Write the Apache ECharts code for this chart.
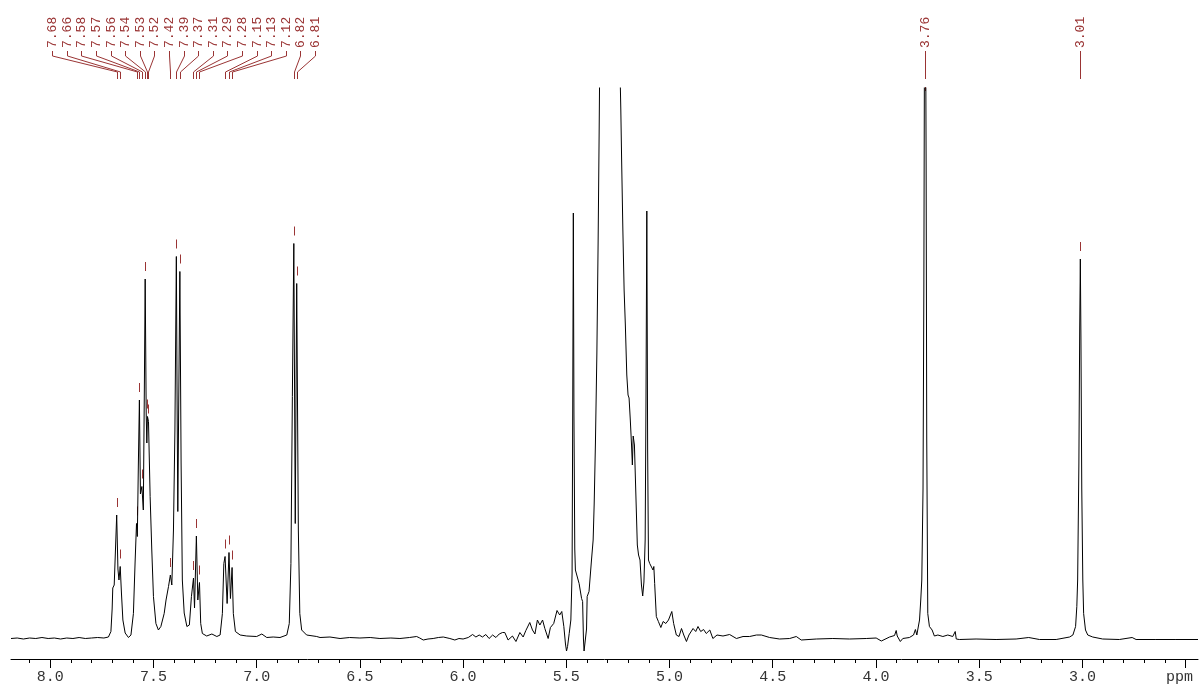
<!DOCTYPE html>
<html>
<head>
<meta charset="utf-8">
<script src="https://cdn.jsdelivr.net/npm/echarts@6/dist/echarts.min.js"></script>
<style>
  html, body { margin: 0; padding: 0; background: #ffffff; }
  #chart { width: 1202px; height: 693px; }
</style>
</head>
<body>
<div id="chart"></div>
<script>
// 1H NMR trace: [chemical shift (ppm), intensity (relative units)]
const spectrum = [
  [8.19,0.1],[8.16,0.2],[8.13,0.0],[8.10,0.2],[8.07,0.1],[8.04,0.3],[8.01,0.1],[7.98,0.2],[7.95,0.0],
  [7.92,0.2],[7.89,0.1],[7.86,0.3],[7.83,0.1],[7.80,0.2],[7.77,0.3],[7.74,0.2],[7.718,0.4],[7.706,1.5],
  [7.700,6.0],[7.697,10.2],[7.690,10.8],[7.684,17.8],[7.678,24.8],[7.672,14.0],[7.667,11.8],[7.661,14.5],
  [7.655,9.2],[7.648,3.8],[7.637,1.2],[7.621,0.3],[7.609,0.8],[7.597,5.1],[7.589,15.2],[7.582,23.1],
  [7.578,20.5],[7.573,35.0],[7.568,47.8],[7.563,29.0],[7.556,30.5],[7.549,25.8],[7.544,50.0],[7.540,72.0],
  [7.535,45.0],[7.532,39.2],[7.529,44.5],[7.524,43.5],[7.516,28.5],[7.508,17.8],[7.500,8.5],[7.488,3.1],
  [7.476,1.8],[7.464,2.5],[7.448,5.1],[7.439,7.8],[7.427,10.5],[7.418,12.8],[7.411,10.8],[7.403,21.8],
  [7.396,41.8],[7.389,76.5],[7.385,45.0],[7.382,25.5],[7.378,45.0],[7.372,73.5],[7.366,35.2],[7.360,11.8],
  [7.351,5.2],[7.338,2.5],[7.326,2.8],[7.316,8.5],[7.306,12.2],[7.301,6.2],[7.292,20.6],[7.285,7.8],
  [7.277,11.3],[7.271,3.1],[7.263,1.1],[7.242,0.6],[7.217,1.0],[7.193,0.5],[7.177,0.8],[7.166,5.1],
  [7.159,15.1],[7.153,16.5],[7.143,7.1],[7.134,17.3],[7.127,8.1],[7.119,14.3],[7.113,5.1],[7.103,1.5],
  [7.080,0.8],[7.048,0.6],[7.000,0.5],[6.975,1.0],[6.951,0.3],[6.920,0.4],[6.887,0.3],[6.854,0.8],
  [6.842,3.1],[6.834,15.1],[6.827,48.5],[6.820,79.1],[6.813,23.1],[6.806,71.1],[6.798,21.8],[6.791,5.1],
  [6.782,1.8],[6.758,0.8],[6.709,0.5],[6.693,0.3],[6.645,0.4],[6.596,0.1],[6.550,0.3],[6.500,0.2],
  [6.450,0.3],[6.403,0.1],[6.350,0.2],[6.306,0.1],[6.260,0.3],[6.225,0.5],[6.210,0.2],[6.193,-0.2],
  [6.170,0.0],[6.145,0.1],[6.120,0.3],[6.096,0.4],[6.064,0.1],[6.040,-0.2],[6.020,0.1],[6.000,0.0],
  [5.975,0.3],[5.954,0.9],[5.938,0.4],[5.922,0.8],[5.906,0.4],[5.890,0.9],[5.874,0.1],[5.857,0.8],
  [5.841,0.3],[5.825,1.0],[5.809,1.3],[5.798,1.3],[5.782,-0.2],[5.761,0.6],[5.744,-0.5],[5.725,1.3],
  [5.709,0.4],[5.696,1.7],[5.677,3.3],[5.664,1.8],[5.652,1.0],[5.640,3.8],[5.628,2.8],[5.615,3.8],
  [5.604,2.1],[5.588,0.1],[5.577,2.3],[5.561,3.1],[5.545,5.7],[5.532,4.8],[5.522,5.5],[5.512,2.5],
  [5.504,-1.0],[5.499,-2.4],[5.494,-1.5],[5.486,1.1],[5.478,3.8],[5.472,13.2],[5.469,45.0],[5.466,85.2],
  [5.463,45.0],[5.459,18.0],[5.456,13.8],[5.448,13.5],[5.438,11.1],[5.426,8.1],[5.421,7.5],[5.417,0.0],
  [5.414,-2.4],[5.406,-2.4],[5.402,2.0],[5.399,8.5],[5.390,9.5],[5.378,15.8],[5.370,19.8],[5.365,27.0],
  [5.359,39.0],[5.352,57.0],[5.346,79.0],[5.341,101.0],[5.336,125.0],[5.330,180.0],[5.320,240.0],
  [5.310,250.0],[5.300,235.0],[5.290,215.0],[5.275,185.0],[5.260,155.0],[5.248,128.0],[5.240,114.0],
  [5.236,106.0],[5.232,95.8],[5.226,81.8],[5.220,69.8],[5.214,62.8],[5.207,52.8],[5.201,48.8],[5.196,48.2],
  [5.190,43.8],[5.184,38.8],[5.180,34.8],[5.176,40.6],[5.170,38.8],[5.163,28.8],[5.156,18.8],[5.150,16.8],
  [5.143,15.8],[5.136,10.8],[5.130,8.6],[5.124,11.4],[5.118,19.8],[5.114,47.8],[5.110,85.6],[5.106,37.8],
  [5.102,15.8],[5.096,15.1],[5.088,14.8],[5.080,13.8],[5.076,14.5],[5.072,11.1],[5.064,4.5],[5.054,3.5],
  [5.042,2.3],[5.031,3.5],[5.018,3.1],[5.005,3.8],[4.989,5.5],[4.980,3.1],[4.967,0.8],[4.954,0.5],
  [4.942,2.1],[4.931,0.8],[4.918,-0.5],[4.906,0.8],[4.898,1.0],[4.886,2.1],[4.873,1.5],[4.862,2.5],
  [4.849,1.5],[4.835,1.9],[4.822,1.1],[4.805,1.8],[4.790,0.1],[4.770,0.8],[4.741,0.6],[4.709,0.9],
  [4.676,0.1],[4.644,0.5],[4.612,0.5],[4.579,0.8],[4.555,0.8],[4.515,0.3],[4.467,0.0],[4.418,0.1],
  [4.386,0.5],[4.362,-0.2],[4.289,0.0],[4.209,0.1],[4.128,0.0],[4.047,0.1],[3.999,0.2],[3.974,-0.4],
  [3.934,0.4],[3.910,0.7],[3.902,1.7],[3.897,0.6],[3.882,-0.5],[3.870,0.1],[3.838,0.3],[3.818,0.8],
  [3.809,1.9],[3.802,0.8],[3.796,2.2],[3.789,3.8],[3.783,7.8],[3.778,11.8],[3.772,30.0],[3.768,70.0],
  [3.765,120.0],[3.763,135.0],[3.760,130.0],[3.757,95.0],[3.754,40.0],[3.749,5.1],[3.741,2.5],[3.728,1.8],
  [3.717,0.6],[3.700,0.8],[3.676,0.5],[3.652,0.8],[3.628,0.5],[3.616,1.5],[3.611,0.0],[3.596,-0.1],
  [3.515,0.0],[3.418,-0.1],[3.321,0.0],[3.260,0.3],[3.208,-0.1],[3.127,-0.1],[3.062,0.4],[3.046,0.8],
  [3.033,2.5],[3.027,6.5],[3.023,11.8],[3.017,35.0],[3.013,62.0],[3.010,76.0],[3.007,60.0],[3.003,30.0],
  [2.998,11.8],[2.994,5.1],[2.985,1.8],[2.974,0.8],[2.950,0.4],[2.902,0.0],[2.821,-0.1],[2.759,0.3],
  [2.740,-0.1],[2.644,-0.1],[2.547,-0.1],[2.44,-0.1]
];

// Picked peaks (ppm); labels print them to two decimals
const peakShifts = [
  7.678, 7.661, 7.582, 7.568, 7.556, 7.540, 7.529, 7.524,
  7.418, 7.389, 7.372, 7.306, 7.292, 7.277, 7.153, 7.134, 7.119,
  6.820, 6.806, 3.763, 3.010
];

// Axis scale
const shiftRange = [2.44, 8.19];
const intensityRange = [-4, 110.2];
const axisLabelValues = [8.0, 7.5, 7.0, 6.5, 6.0, 5.5, 5.0, 4.5, 4.0, 3.5, 3.0, 2.5];
const unitLabel = 'ppm';
const minorTickValues = [];
for (let k = 81; k >= 25; k--) minorTickValues.push(k / 10);

// Peak heights come straight from the trace
function heightAt(ppm) {
  let best = null;
  for (const p of spectrum) {
    if (Math.abs(p[0] - ppm) < 1e-6) return p[1];
    if (Math.abs(p[0] - ppm) <= 0.003 && (best === null || p[1] > best)) best = p[1];
  }
  return best === null ? 0 : best;
}
const peakData = peakShifts.map(s => [s, heightAt(s)]);

const LABEL_COLOR = '#9a3434';
const LABEL_PITCH = 14.6;

// Spread labels that would collide evenly around the centre of their group
function layoutSlots(xs) {
  let clusters = xs.map((x, i) => ({ members: [i], center: x }));
  let merged = true;
  while (merged) {
    merged = false;
    for (let k = 0; k < clusters.length - 1; k++) {
      const a = clusters[k], b = clusters[k + 1];
      const aRight = a.center + (a.members.length - 1) / 2 * LABEL_PITCH;
      const bLeft = b.center - (b.members.length - 1) / 2 * LABEL_PITCH;
      if (bLeft - aRight < LABEL_PITCH) {
        const members = a.members.concat(b.members);
        const center = members.reduce((s, i) => s + xs[i], 0) / members.length;
        clusters.splice(k, 2, { members, center });
        merged = true;
        break;
      }
    }
  }
  const slots = [];
  clusters.forEach(c => c.members.forEach((i, j) => {
    slots[i] = c.center + (j - (c.members.length - 1) / 2) * LABEL_PITCH;
  }));
  return slots;
}

function renderPeakLabel(params, api) {
  const i = params.dataIndex;
  const top = params.coordSys.y;
  const xs = peakData.map(p => api.coord([p[0], 0])[0]);
  const slots = layoutSlots(xs);
  const px = Math.round(xs[i]) + 0.5;
  const sx = Math.round(slots[i]) + 0.5;
  const peakY = api.coord([api.value(0), api.value(1)])[1];
  let tTop = peakY - 17, tBot = peakY - 8;
  if (tBot < top + 3) { tTop = top - 1; tBot = top + 3; }
  return {
    type: 'group',
    children: [
      {
        type: 'text',
        x: sx, y: top - 40,
        rotation: Math.PI / 2,
        style: {
          x: 0, y: 0,
          text: api.value(0).toFixed(2),
          align: 'left', verticalAlign: 'middle',
          fill: LABEL_COLOR,
          font: '13px "Liberation Mono", monospace'
        }
      },
      {
        type: 'polyline',
        shape: { points: [[sx, top - 37], [sx, top - 32], [px, top - 16], [px, top - 9]] },
        style: { stroke: LABEL_COLOR, lineWidth: 1, fill: null }
      },
      {
        type: 'line',
        shape: { x1: px, y1: tTop, x2: px, y2: tBot },
        style: { stroke: LABEL_COLOR, lineWidth: 1 }
      }
    ]
  };
}

const chart = echarts.init(document.getElementById('chart'), null, { renderer: 'canvas' });
chart.setOption({
  animation: false,
  backgroundColor: '#ffffff',
  grid: { left: 11, right: 4, top: 88, bottom: 34, containLabel: false, outerBoundsMode: 'none' },
  xAxis: [
    {
      type: 'value', inverse: true, min: shiftRange[0], max: shiftRange[1],
      position: 'bottom',
      axisLine: { show: true, onZero: false, lineStyle: { color: '#000', width: 1 } },
      axisTick: { show: true, customValues: axisLabelValues, length: 9, lineStyle: { color: '#000', width: 1 } },
      axisLabel: {
        show: true, customValues: axisLabelValues, margin: 11,
        color: '#333', fontFamily: '"Liberation Mono", monospace', fontSize: 15,
        formatter: v => Math.abs(v - 2.5) < 1e-9 ? '{unit|' + unitLabel + '}' : v.toFixed(1),
        rich: {
          unit: { color: '#333', fontFamily: '"Liberation Mono", monospace', fontSize: 15, padding: [0, 12, 0, 0] }
        }
      },
      splitLine: { show: false }
    },
    {
      type: 'value', inverse: true, min: shiftRange[0], max: shiftRange[1],
      position: 'bottom',
      axisLine: { show: false, onZero: false },
      axisTick: { show: true, customValues: minorTickValues, length: 4, lineStyle: { color: '#000', width: 1 } },
      axisLabel: { show: false },
      splitLine: { show: false }
    }
  ],
  yAxis: { type: 'value', min: intensityRange[0], max: intensityRange[1], show: false },
  series: [
    {
      type: 'line',
      data: spectrum,
      xAxisIndex: 0,
      showSymbol: false,
      symbol: 'none',
      clip: true,
      sampling: null,
      lineStyle: { color: '#000', width: 1 },
      silent: true
    },
    {
      type: 'custom',
      data: peakData,
      xAxisIndex: 0,
      clip: false,
      silent: true,
      renderItem: renderPeakLabel
    }
  ]
});
</script>
</body>
</html>
